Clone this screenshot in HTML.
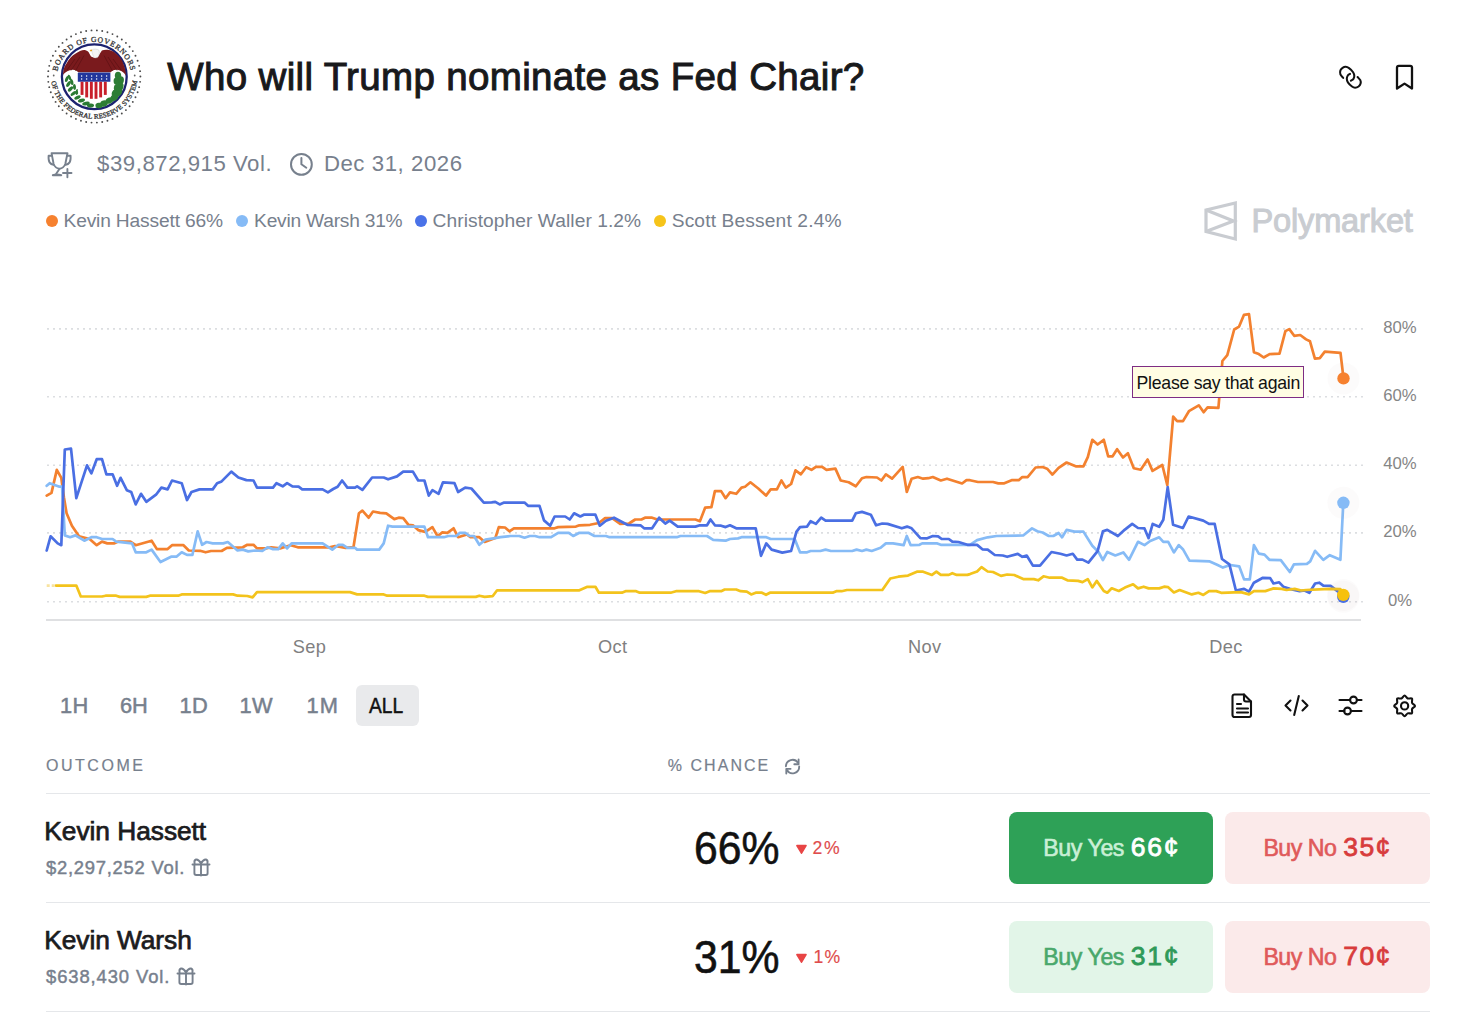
<!DOCTYPE html>
<html><head><meta charset="utf-8"><style>
html,body{margin:0;padding:0;background:#fff;}
body{width:1470px;height:1016px;position:relative;overflow:hidden;font-family:'Liberation Sans', sans-serif;}
</style></head><body>
<div style="position:absolute;left:167.30px;top:57.81px;font-size:38.50px;line-height:38.50px;font-weight:400;color:#18191b;letter-spacing:0.34px;white-space:nowrap;font-family:'Liberation Sans', sans-serif;-webkit-text-stroke:1.0px #18191b">Who will Trump nominate as Fed Chair?</div>
<div style="position:absolute;left:97.10px;top:152.91px;font-size:22.20px;line-height:22.20px;font-weight:400;color:#77808d;letter-spacing:0.53px;white-space:nowrap;font-family:'Liberation Sans', sans-serif;">$39,872,915 Vol.</div>
<div style="position:absolute;left:323.90px;top:152.91px;font-size:22.20px;line-height:22.20px;font-weight:400;color:#77808d;letter-spacing:0.56px;white-space:nowrap;font-family:'Liberation Sans', sans-serif;">Dec 31, 2026</div>
<div style="position:absolute;left:46px;top:215px;width:12px;height:12px;border-radius:6px;background:#f6812f"></div>
<div style="position:absolute;left:236px;top:215px;width:12px;height:12px;border-radius:6px;background:#86bbf6"></div>
<div style="position:absolute;left:415px;top:215px;width:12px;height:12px;border-radius:6px;background:#4a72e8"></div>
<div style="position:absolute;left:654px;top:215px;width:12px;height:12px;border-radius:6px;background:#f6c41a"></div>
<div style="position:absolute;left:63.50px;top:211.45px;font-size:19.20px;line-height:19.20px;font-weight:400;color:#77808d;letter-spacing:-0.16px;white-space:nowrap;font-family:'Liberation Sans', sans-serif;">Kevin Hassett 66%</div>
<div style="position:absolute;left:254.10px;top:211.45px;font-size:19.20px;line-height:19.20px;font-weight:400;color:#77808d;letter-spacing:-0.23px;white-space:nowrap;font-family:'Liberation Sans', sans-serif;">Kevin Warsh 31%</div>
<div style="position:absolute;left:432.60px;top:211.45px;font-size:19.20px;line-height:19.20px;font-weight:400;color:#77808d;letter-spacing:0.06px;white-space:nowrap;font-family:'Liberation Sans', sans-serif;">Christopher Waller 1.2%</div>
<div style="position:absolute;left:671.70px;top:211.45px;font-size:19.20px;line-height:19.20px;font-weight:400;color:#77808d;letter-spacing:0.14px;white-space:nowrap;font-family:'Liberation Sans', sans-serif;">Scott Bessent 2.4%</div>
<div style="position:absolute;left:1251.40px;top:204.70px;font-size:32.60px;line-height:32.60px;font-weight:400;color:#c9ccd1;letter-spacing:-0.16px;white-space:nowrap;font-family:'Liberation Sans', sans-serif;-webkit-text-stroke:1px #c9ccd1">Polymarket</div>
<div style="position:absolute;left:1360px;width:80px;text-align:center;top:319.96px;font-size:16.7px;line-height:16.7px;color:#858585;font-family:'Liberation Sans', sans-serif">80%</div>
<div style="position:absolute;left:1360px;width:80px;text-align:center;top:387.96px;font-size:16.7px;line-height:16.7px;color:#858585;font-family:'Liberation Sans', sans-serif">60%</div>
<div style="position:absolute;left:1360px;width:80px;text-align:center;top:456.26px;font-size:16.7px;line-height:16.7px;color:#858585;font-family:'Liberation Sans', sans-serif">40%</div>
<div style="position:absolute;left:1360px;width:80px;text-align:center;top:524.46px;font-size:16.7px;line-height:16.7px;color:#858585;font-family:'Liberation Sans', sans-serif">20%</div>
<div style="position:absolute;left:1360px;width:80px;text-align:center;top:592.86px;font-size:16.7px;line-height:16.7px;color:#858585;font-family:'Liberation Sans', sans-serif">0%</div>
<div style="position:absolute;left:269.3px;width:80px;text-align:center;top:638.19px;font-size:18.2px;line-height:18.2px;color:#808080;letter-spacing:0.3px;text-indent:0.3px;font-family:'Liberation Sans', sans-serif">Sep</div>
<div style="position:absolute;left:572.5px;width:80px;text-align:center;top:638.19px;font-size:18.2px;line-height:18.2px;color:#808080;letter-spacing:0.3px;text-indent:0.3px;font-family:'Liberation Sans', sans-serif">Oct</div>
<div style="position:absolute;left:884.6px;width:80px;text-align:center;top:638.19px;font-size:18.2px;line-height:18.2px;color:#808080;letter-spacing:0.3px;text-indent:0.3px;font-family:'Liberation Sans', sans-serif">Nov</div>
<div style="position:absolute;left:1185.8px;width:80px;text-align:center;top:638.19px;font-size:18.2px;line-height:18.2px;color:#808080;letter-spacing:0.3px;text-indent:0.3px;font-family:'Liberation Sans', sans-serif">Dec</div>
<div style="position:absolute;left:355.7px;top:685px;width:63.4px;height:41.3px;border-radius:6px;background:#e9eaec"></div>
<div style="position:absolute;left:60.00px;top:694.95px;font-size:21.80px;line-height:21.80px;font-weight:400;color:#77808d;letter-spacing:0.40px;white-space:nowrap;font-family:'Liberation Sans', sans-serif;-webkit-text-stroke:0.5px #77808d">1H</div>
<div style="position:absolute;left:119.90px;top:694.95px;font-size:21.80px;line-height:21.80px;font-weight:400;color:#77808d;letter-spacing:0.00px;white-space:nowrap;font-family:'Liberation Sans', sans-serif;-webkit-text-stroke:0.5px #77808d">6H</div>
<div style="position:absolute;left:179.40px;top:694.95px;font-size:21.80px;line-height:21.80px;font-weight:400;color:#77808d;letter-spacing:0.50px;white-space:nowrap;font-family:'Liberation Sans', sans-serif;-webkit-text-stroke:0.5px #77808d">1D</div>
<div style="position:absolute;left:239.40px;top:694.95px;font-size:21.80px;line-height:21.80px;font-weight:400;color:#77808d;letter-spacing:0.40px;white-space:nowrap;font-family:'Liberation Sans', sans-serif;-webkit-text-stroke:0.5px #77808d">1W</div>
<div style="position:absolute;left:306.60px;top:694.95px;font-size:21.80px;line-height:21.80px;font-weight:400;color:#77808d;letter-spacing:1.00px;white-space:nowrap;font-family:'Liberation Sans', sans-serif;-webkit-text-stroke:0.5px #77808d">1M</div>
<div style="position:absolute;left:369.00px;top:694.95px;font-size:21.80px;line-height:21.80px;font-weight:400;color:#111;letter-spacing:0.00px;white-space:nowrap;font-family:'Liberation Sans', sans-serif;transform:scaleX(0.88);transform-origin:0 0;-webkit-text-stroke:0.5px #111">ALL</div>
<div style="position:absolute;left:45.90px;top:758.26px;font-size:16.00px;line-height:16.00px;font-weight:400;color:#77808d;letter-spacing:2.55px;white-space:nowrap;font-family:'Liberation Sans', sans-serif;-webkit-text-stroke:0.2px #77808d">OUTCOME</div>
<div style="position:absolute;left:667.70px;top:758.26px;font-size:16.00px;line-height:16.00px;font-weight:400;color:#77808d;letter-spacing:2.05px;white-space:nowrap;font-family:'Liberation Sans', sans-serif;-webkit-text-stroke:0.2px #77808d">% CHANCE</div>
<div style="position:absolute;left:46px;top:793px;width:1384px;height:1px;background:#e5e7ea"></div>
<div style="position:absolute;left:46px;top:902px;width:1384px;height:1px;background:#e5e7ea"></div>
<div style="position:absolute;left:46px;top:1011px;width:1384px;height:1px;background:#e5e7ea"></div>
<div style="position:absolute;left:44.30px;top:818.14px;font-size:26.30px;line-height:26.30px;font-weight:400;color:#1c1c1e;letter-spacing:-0.03px;white-space:nowrap;font-family:'Liberation Sans', sans-serif;-webkit-text-stroke:0.75px #1c1c1e">Kevin Hassett</div>
<div style="position:absolute;left:46.00px;top:859.42px;font-size:18.40px;line-height:18.40px;font-weight:400;color:#77808d;letter-spacing:0.75px;white-space:nowrap;font-family:'Liberation Sans', sans-serif;-webkit-text-stroke:0.45px #77808d">$2,297,252 Vol.</div>
<div style="position:absolute;left:693.90px;top:824.79px;font-size:46.20px;line-height:46.20px;font-weight:400;color:#111;letter-spacing:0.00px;white-space:nowrap;font-family:'Liberation Sans', sans-serif;transform:scaleX(0.925);transform-origin:0 0;-webkit-text-stroke:0.6px #111">66%</div>
<svg style="position:absolute;left:795px;top:843.9px" width="13" height="11" viewBox="0 0 13 11"><path d="M1.9 1.6 L11.0 1.6 L6.5 9.2 Z" fill="#e84545" stroke="#e84545" stroke-width="1.6" stroke-linejoin="round"/></svg>
<div style="position:absolute;left:812.60px;top:840.00px;font-size:17.60px;line-height:17.60px;font-weight:400;color:#e04c4c;letter-spacing:1.60px;white-space:nowrap;font-family:'Liberation Sans', sans-serif;-webkit-text-stroke:0.15px #e04c4c">2%</div>
<div style="position:absolute;left:1009px;top:812px;width:204px;height:72px;border-radius:8px;background:#2ea157"></div>
<div style="position:absolute;left:1225px;top:812px;width:204.5px;height:72px;border-radius:8px;background:#fbeaea"></div>
<div style="position:absolute;left:1043.30px;top:836.66px;font-size:23.20px;line-height:23.20px;font-weight:400;color:#c9efd5;letter-spacing:-0.44px;white-space:nowrap;font-family:'Liberation Sans', sans-serif;-webkit-text-stroke:0.6px #c9efd5">Buy Yes</div>
<div style="position:absolute;left:1130.70px;top:833.87px;font-size:26.50px;line-height:26.50px;font-weight:400;color:#ffffff;letter-spacing:1.75px;white-space:nowrap;font-family:'Liberation Sans', sans-serif;-webkit-text-stroke:0.8px #ffffff">66¢</div>
<div style="position:absolute;left:1263.40px;top:836.66px;font-size:23.20px;line-height:23.20px;font-weight:400;color:#e05a5a;letter-spacing:-0.50px;white-space:nowrap;font-family:'Liberation Sans', sans-serif;-webkit-text-stroke:0.6px #e05a5a">Buy No</div>
<div style="position:absolute;left:1343.30px;top:833.87px;font-size:26.50px;line-height:26.50px;font-weight:400;color:#d83c3c;letter-spacing:1.35px;white-space:nowrap;font-family:'Liberation Sans', sans-serif;-webkit-text-stroke:0.8px #d83c3c">35¢</div>
<svg style="position:absolute;left:188.0px;top:856.1px" width="26" height="24" viewBox="188.0 856.1 26 24" fill="none" stroke="#77808d" stroke-width="1.9" stroke-linecap="round" stroke-linejoin="round"><path d="M192.5 864.6 H209.5"/><path d="M194.4 865.3000000000001 V873.4 Q194.4 875.1 196.2 875.1 H205.8 Q207.6 875.1 207.6 873.4 V865.3000000000001"/><path d="M201.0 862.1 V875.6"/><path d="M201.0 863.6 Q198.8 859.3000000000001 196.0 859.6 Q193.8 860.4 194.6 863.5"/><path d="M201.0 863.6 Q203.2 859.3000000000001 206.0 859.6 Q208.2 860.4 207.4 863.5"/></svg>
<div style="position:absolute;left:44.30px;top:927.04px;font-size:26.30px;line-height:26.30px;font-weight:400;color:#1c1c1e;letter-spacing:-0.06px;white-space:nowrap;font-family:'Liberation Sans', sans-serif;-webkit-text-stroke:0.75px #1c1c1e">Kevin Warsh</div>
<div style="position:absolute;left:46.00px;top:968.42px;font-size:18.40px;line-height:18.40px;font-weight:400;color:#77808d;letter-spacing:0.91px;white-space:nowrap;font-family:'Liberation Sans', sans-serif;-webkit-text-stroke:0.45px #77808d">$638,430 Vol.</div>
<div style="position:absolute;left:693.90px;top:933.79px;font-size:46.20px;line-height:46.20px;font-weight:400;color:#111;letter-spacing:0.00px;white-space:nowrap;font-family:'Liberation Sans', sans-serif;transform:scaleX(0.925);transform-origin:0 0;-webkit-text-stroke:0.6px #111">31%</div>
<svg style="position:absolute;left:795px;top:952.7px" width="13" height="11" viewBox="0 0 13 11"><path d="M1.9 1.6 L11.0 1.6 L6.5 9.2 Z" fill="#e84545" stroke="#e84545" stroke-width="1.6" stroke-linejoin="round"/></svg>
<div style="position:absolute;left:813.60px;top:948.80px;font-size:17.60px;line-height:17.60px;font-weight:400;color:#e04c4c;letter-spacing:1.00px;white-space:nowrap;font-family:'Liberation Sans', sans-serif;-webkit-text-stroke:0.15px #e04c4c">1%</div>
<div style="position:absolute;left:1009px;top:921px;width:204px;height:72px;border-radius:8px;background:#e2f5e8"></div>
<div style="position:absolute;left:1225px;top:921px;width:204.5px;height:72px;border-radius:8px;background:#fbeaea"></div>
<div style="position:absolute;left:1043.30px;top:945.66px;font-size:23.20px;line-height:23.20px;font-weight:400;color:#4aa86c;letter-spacing:-0.44px;white-space:nowrap;font-family:'Liberation Sans', sans-serif;-webkit-text-stroke:0.6px #4aa86c">Buy Yes</div>
<div style="position:absolute;left:1130.70px;top:942.87px;font-size:26.50px;line-height:26.50px;font-weight:400;color:#2f9a58;letter-spacing:1.75px;white-space:nowrap;font-family:'Liberation Sans', sans-serif;-webkit-text-stroke:0.8px #2f9a58">31¢</div>
<div style="position:absolute;left:1263.40px;top:945.66px;font-size:23.20px;line-height:23.20px;font-weight:400;color:#e05a5a;letter-spacing:-0.50px;white-space:nowrap;font-family:'Liberation Sans', sans-serif;-webkit-text-stroke:0.6px #e05a5a">Buy No</div>
<div style="position:absolute;left:1343.30px;top:942.87px;font-size:26.50px;line-height:26.50px;font-weight:400;color:#d83c3c;letter-spacing:1.35px;white-space:nowrap;font-family:'Liberation Sans', sans-serif;-webkit-text-stroke:0.8px #d83c3c">70¢</div>
<svg style="position:absolute;left:173.29999999999998px;top:965.1px" width="26" height="24" viewBox="173.29999999999998 965.1 26 24" fill="none" stroke="#77808d" stroke-width="1.9" stroke-linecap="round" stroke-linejoin="round"><path d="M177.79999999999998 973.6 H194.79999999999998"/><path d="M179.7 974.3000000000001 V982.4 Q179.7 984.1 181.49999999999997 984.1 H191.1 Q192.89999999999998 984.1 192.89999999999998 982.4 V974.3000000000001"/><path d="M186.29999999999998 971.1 V984.6"/><path d="M186.29999999999998 972.6 Q184.1 968.3000000000001 181.29999999999998 968.6 Q179.1 969.4 179.89999999999998 972.5"/><path d="M186.29999999999998 972.6 Q188.49999999999997 968.3000000000001 191.29999999999998 968.6 Q193.49999999999997 969.4 192.7 972.5"/></svg>
<svg style="position:absolute;left:0;top:0" width="1470" height="1016" viewBox="0 0 1470 1016">
<line x1="47" y1="328.9" x2="1367" y2="328.9" stroke="#dcdee1" stroke-width="1.6" stroke-dasharray="2 4"/>
<line x1="47" y1="396.8" x2="1367" y2="396.8" stroke="#dcdee1" stroke-width="1.6" stroke-dasharray="2 4"/>
<line x1="47" y1="465.2" x2="1367" y2="465.2" stroke="#dcdee1" stroke-width="1.6" stroke-dasharray="2 4"/>
<line x1="47" y1="532.9" x2="1367" y2="532.9" stroke="#dcdee1" stroke-width="1.6" stroke-dasharray="2 4"/>
<line x1="47" y1="601.7" x2="1367" y2="601.7" stroke="#dcdee1" stroke-width="1.6" stroke-dasharray="2 4"/>
<line x1="46" y1="620" x2="1361" y2="620" stroke="#dfe0e2" stroke-width="2"/>
<path d="M46.7 495.6 L51.5 492.9 L56.8 469.9 L61.3 477.8 L63.9 497.3 L66.6 513.3 L71.9 525.7 L79.0 536.3 L89.6 539.0 L96.7 545.2 L102.0 541.6 L107.3 543.4 L114.4 543.4 L118.0 541.6 L130.4 541.6 L135.7 545.2 L151.6 540.7 L156.9 549.1 L167.6 549.1 L172.0 545.2 L183.5 545.2 L188.8 550.5 L200.0 550.8 L205.6 552.3 L211.0 551.0 L221.6 551.0 L226.9 547.8 L242.8 547.3 L247.3 544.8 L253.5 544.8 L257.0 548.4 L265.9 548.4 L271.2 547.3 L280.0 548.4 L290.7 545.2 L297.8 547.3 L329.7 547.3 L335.0 546.0 L345.6 547.8 L353.5 547.0 L358.9 513.3 L362.4 510.6 L368.6 517.7 L373.0 511.5 L380.1 512.9 L386.3 513.3 L394.3 519.1 L398.7 517.7 L403.2 518.2 L408.5 524.8 L412.9 525.3 L418.2 530.1 L425.3 531.9 L432.4 527.1 L437.7 536.3 L442.1 532.4 L447.4 532.8 L453.6 528.3 L458.1 537.2 L466.9 534.5 L470.5 537.2 L479.3 537.2 L484.7 542.0 L495.3 538.1 L498.8 527.1 L505.0 527.5 L509.4 531.3 L513.9 528.3 L554.6 528.3 L558.2 527.1 L575.9 526.6 L579.4 525.3 L590.0 524.8 L598.9 523.0 L605.1 518.1 L612.2 518.1 L620.2 523.9 L629.0 523.5 L635.2 519.5 L641.4 519.5 L645.0 517.7 L652.1 517.7 L657.4 519.5 L665.0 519.5 L695.4 519.5 L699.9 521.2 L705.2 507.6 L711.4 507.1 L714.9 491.1 L721.1 491.1 L725.6 498.2 L730.0 492.4 L736.2 493.8 L741.5 487.6 L745.0 486.7 L750.4 482.3 L758.3 488.5 L766.0 495.6 L770.7 489.4 L776.9 489.4 L781.4 480.5 L785.8 487.6 L791.1 484.0 L795.5 470.4 L800.9 474.3 L806.2 467.2 L811.5 469.9 L815.9 466.9 L822.1 466.9 L826.5 469.9 L835.4 468.6 L840.7 480.5 L848.7 482.3 L855.8 486.3 L862.0 478.2 L866.4 477.0 L877.0 477.5 L881.4 480.5 L885.9 474.3 L892.1 478.7 L902.7 466.9 L906.8 492.0 L911.6 478.7 L917.8 477.0 L923.1 478.7 L928.4 478.2 L932.8 477.0 L940.8 480.5 L947.0 478.7 L962.1 483.5 L966.5 480.1 L970.0 480.2 L978.0 482.0 L993.0 482.0 L998.3 483.4 L1003.7 483.4 L1011.6 480.2 L1018.7 480.2 L1022.3 477.1 L1027.6 477.1 L1035.6 467.5 L1042.6 467.0 L1047.1 468.7 L1052.4 474.6 L1058.6 467.8 L1066.6 462.5 L1076.3 466.4 L1083.4 466.4 L1087.8 457.2 L1092.3 439.8 L1097.6 444.5 L1103.8 439.8 L1108.2 456.3 L1112.6 456.3 L1117.1 449.2 L1123.0 457.5 L1127.9 453.2 L1133.8 468.3 L1140.7 469.7 L1147.6 459.5 L1152.5 470.9 L1162.3 465.0 L1167.3 485.1 L1173.2 416.6 L1177.1 421.1 L1183.0 421.1 L1188.9 411.2 L1198.8 405.3 L1203.7 412.2 L1207.6 407.3 L1218.4 407.9 L1222.4 361.0 L1227.3 355.1 L1234.2 329.5 L1239.1 326.6 L1244.0 314.8 L1249.0 314.2 L1253.9 352.2 L1258.8 354.1 L1263.7 357.5 L1269.6 354.1 L1279.5 353.6 L1285.4 331.1 L1289.3 329.1 L1294.2 335.8 L1300.2 335.0 L1306.1 339.4 L1310.0 341.3 L1314.9 358.7 L1319.8 358.1 L1324.8 351.6 L1340.5 352.8 L1343.5 378.4" fill="none" stroke="#f3812f" stroke-width="2.7" stroke-linejoin="round" stroke-linecap="round"/>
<path d="M46.7 485.8 L49.7 483.2 L59.5 486.7 L62.1 486.7 L64.8 535.4 L70.1 537.2 L75.4 535.4 L84.3 540.7 L91.4 537.2 L96.7 537.2 L102.0 539.0 L112.6 539.0 L116.2 541.6 L132.1 543.4 L135.7 552.3 L146.3 552.3 L151.6 549.6 L160.5 562.0 L171.1 556.7 L176.4 556.7 L181.7 552.3 L187.0 554.9 L192.4 554.9 L197.7 531.3 L202.1 544.8 L206.5 542.0 L212.7 543.4 L223.3 543.4 L227.8 542.0 L237.5 550.5 L242.8 549.6 L248.2 551.4 L255.2 550.5 L262.3 551.0 L267.6 547.3 L273.0 549.1 L278.3 549.1 L282.7 543.4 L287.1 548.4 L291.6 543.4 L301.3 543.4 L322.6 543.4 L332.3 549.6 L338.5 544.8 L342.9 544.8 L347.4 547.8 L355.0 547.8 L357.1 549.6 L379.2 549.6 L383.7 543.4 L388.1 525.7 L392.5 526.6 L424.4 526.6 L428.0 537.2 L443.9 537.2 L448.3 536.0 L456.3 536.0 L459.9 532.8 L465.2 532.8 L469.6 536.0 L474.0 536.0 L479.3 544.8 L485.5 539.5 L493.5 538.4 L500.6 537.2 L510.3 536.0 L519.2 536.0 L524.5 537.7 L529.8 536.0 L535.1 536.0 L539.5 537.2 L551.1 537.2 L558.2 532.8 L568.8 532.8 L573.2 536.0 L579.4 532.8 L588.3 532.8 L594.5 536.0 L606.0 536.0 L609.5 537.2 L676.8 537.2 L680.4 536.0 L707.0 536.0 L713.2 539.9 L725.6 540.7 L730.0 539.0 L738.0 538.4 L741.5 537.2 L766.3 537.2 L770.7 539.0 L794.7 539.0 L800.0 552.3 L807.1 552.3 L810.6 551.0 L820.3 551.0 L825.6 549.6 L830.9 551.0 L852.2 551.0 L856.6 549.6 L862.0 551.0 L866.4 549.6 L871.7 551.0 L880.6 547.8 L885.9 543.4 L893.0 543.4 L903.6 545.2 L906.8 536.0 L910.7 545.2 L919.5 544.8 L922.2 543.4 L937.3 543.4 L940.8 544.8 L970.0 544.9 L977.1 540.1 L987.7 537.3 L996.6 536.0 L1023.2 535.5 L1032.0 528.4 L1037.3 531.3 L1042.6 532.5 L1048.8 536.0 L1053.3 536.0 L1058.6 533.0 L1062.1 537.3 L1066.6 529.9 L1074.5 531.6 L1083.4 531.6 L1092.3 545.8 L1098.5 552.0 L1102.9 560.0 L1107.3 552.0 L1115.3 555.5 L1123.3 552.4 L1129.0 559.8 L1138.0 541.8 L1144.5 545.1 L1150.2 541.0 L1159.2 537.3 L1163.3 541.8 L1168.2 541.8 L1173.9 552.4 L1178.8 545.1 L1182.9 549.2 L1189.4 560.6 L1209.8 561.4 L1217.1 564.7 L1222.9 567.6 L1230.2 565.0 L1239.2 566.3 L1244.1 579.4 L1249.8 579.4 L1253.9 545.1 L1258.8 553.6 L1264.5 554.6 L1269.4 559.8 L1280.8 560.1 L1289.8 572.0 L1293.9 564.4 L1306.9 563.9 L1310.2 561.4 L1315.1 550.8 L1323.3 559.8 L1329.8 555.2 L1340.4 559.8 L1343.3 502.7" fill="none" stroke="#86bbf6" stroke-width="2.7" stroke-linejoin="round" stroke-linecap="round"/>
<path d="M46.7 550.5 L50.6 536.3 L57.7 543.4 L61.3 545.2 L64.8 449.5 L71.0 448.6 L76.3 498.2 L87.0 465.4 L91.4 473.4 L96.7 459.2 L102.0 459.2 L106.4 474.3 L112.6 474.3 L117.1 485.8 L120.6 477.8 L126.8 490.2 L131.2 492.0 L135.7 504.4 L141.0 493.8 L146.3 501.8 L156.0 494.7 L161.4 487.6 L167.6 489.4 L172.0 480.5 L181.7 483.2 L187.0 500.0 L191.5 492.0 L199.5 489.4 L201.2 489.4 L212.7 489.4 L217.1 483.2 L221.6 481.4 L231.3 471.6 L238.4 477.5 L246.4 480.1 L253.5 480.5 L257.0 487.6 L273.0 487.6 L276.5 483.2 L282.7 486.3 L287.1 483.2 L292.4 486.3 L298.6 486.7 L302.2 489.4 L322.6 489.4 L327.9 492.4 L333.2 489.0 L337.6 486.7 L342.1 480.5 L347.4 487.6 L355.0 487.6 L357.1 486.3 L362.4 489.9 L372.1 477.5 L383.7 477.5 L388.1 479.3 L397.0 476.4 L403.2 471.6 L412.9 471.6 L418.2 480.5 L424.4 480.5 L428.8 495.6 L432.4 490.2 L438.6 493.8 L443.0 482.3 L454.5 483.2 L458.1 492.0 L465.2 487.6 L471.4 488.5 L483.8 502.6 L491.7 502.3 L495.3 501.8 L499.7 504.4 L504.1 502.6 L510.0 502.6 L524.5 502.6 L528.0 505.8 L539.5 505.8 L544.0 520.4 L550.2 525.7 L554.6 516.5 L565.2 516.5 L569.7 519.5 L574.1 513.3 L580.3 516.5 L583.8 514.7 L595.4 514.7 L599.8 525.7 L606.0 520.7 L614.0 517.7 L627.3 524.8 L640.5 525.3 L644.1 528.3 L652.1 528.3 L659.1 517.7 L665.3 523.5 L669.7 520.7 L677.7 526.6 L695.4 526.6 L699.9 525.3 L707.0 525.3 L710.5 519.5 L714.9 525.3 L721.1 525.7 L725.6 527.1 L730.0 525.3 L736.2 528.3 L755.7 528.3 L761.0 555.8 L766.3 543.4 L771.6 549.6 L782.3 552.6 L791.1 551.0 L796.4 531.9 L800.0 527.1 L807.1 526.6 L810.6 521.2 L815.9 523.9 L821.2 517.7 L825.6 520.7 L852.2 520.7 L855.8 513.3 L862.0 511.9 L870.8 514.7 L876.1 525.3 L882.3 523.5 L887.6 523.9 L901.8 528.3 L907.1 526.6 L911.6 528.3 L920.4 538.1 L926.6 538.4 L932.8 536.0 L938.1 536.3 L941.7 539.0 L948.8 539.0 L952.3 541.6 L958.5 542.0 L967.4 544.8 L977.1 544.9 L982.4 549.3 L987.7 549.7 L994.8 555.0 L1002.8 555.5 L1007.2 556.8 L1017.8 553.8 L1022.3 556.8 L1026.7 555.5 L1032.9 565.6 L1040.0 565.6 L1051.5 552.0 L1060.4 553.8 L1066.6 555.5 L1072.8 553.8 L1077.2 559.6 L1082.5 559.6 L1088.4 562.6 L1097.6 551.1 L1102.9 531.3 L1107.3 529.9 L1117.9 536.0 L1124.9 529.6 L1132.2 523.9 L1138.0 528.0 L1144.5 528.4 L1148.6 538.2 L1152.7 523.9 L1159.2 526.8 L1163.3 519.8 L1167.7 487.1 L1173.1 524.7 L1182.9 528.0 L1188.6 516.5 L1203.3 520.6 L1209.0 523.9 L1214.7 523.9 L1222.0 559.0 L1229.4 564.4 L1235.9 590.5 L1244.1 588.9 L1249.0 591.6 L1253.9 582.7 L1262.9 577.8 L1270.2 578.1 L1273.5 583.5 L1279.2 582.3 L1283.3 586.7 L1289.8 588.9 L1299.6 591.1 L1304.5 590.5 L1309.4 592.8 L1315.1 583.5 L1319.2 582.7 L1323.3 585.6 L1330.6 585.9 L1337.1 590.8 L1343.3 597.0" fill="none" stroke="#4a6fe3" stroke-width="2.7" stroke-linejoin="round" stroke-linecap="round"/>
<path d="M56.0 585.6 L76.3 585.6 L80.8 596.5 L102.0 596.5 L105.6 595.7 L116.2 595.7 L119.7 596.9 L146.3 596.9 L149.9 595.7 L178.2 595.7 L181.7 594.4 L233.1 594.4 L237.5 595.7 L247.3 596.0 L252.6 597.4 L257.0 592.1 L350.0 592.1 L357.1 594.4 L383.7 594.4 L387.2 595.7 L424.4 595.7 L428.0 596.9 L475.8 596.9 L479.3 595.7 L484.7 596.9 L492.6 596.2 L497.1 590.3 L579.4 590.3 L587.4 586.8 L595.4 586.8 L598.9 592.7 L621.9 592.7 L625.5 591.2 L636.1 591.2 L639.7 592.7 L670.6 592.7 L676.0 591.2 L699.0 591.2 L705.2 593.0 L709.6 591.2 L721.1 591.2 L724.7 589.5 L736.2 589.5 L740.6 591.2 L746.8 591.6 L751.2 594.4 L755.7 592.7 L761.9 592.7 L766.0 594.8 L769.9 592.7 L832.7 592.7 L836.3 591.2 L841.6 591.2 L846.9 590.0 L882.3 590.0 L890.3 578.5 L898.3 576.7 L908.0 575.6 L916.9 571.7 L923.1 571.7 L932.0 574.9 L936.4 571.7 L940.8 574.9 L948.8 574.9 L952.3 573.2 L956.7 574.9 L967.4 574.9 L970.0 574.1 L977.1 571.5 L981.5 567.1 L987.7 571.5 L993.0 572.0 L1001.0 575.9 L1007.2 574.5 L1014.3 575.0 L1023.2 579.1 L1033.8 579.1 L1038.2 580.3 L1043.5 576.3 L1049.7 577.7 L1062.1 577.7 L1067.4 580.3 L1078.1 580.9 L1082.5 582.1 L1087.8 579.1 L1092.3 587.4 L1096.7 580.9 L1103.8 591.0 L1107.3 592.7 L1111.7 588.3 L1118.8 591.0 L1124.9 587.6 L1133.1 584.3 L1138.0 588.4 L1143.7 586.7 L1148.6 588.4 L1159.2 588.4 L1164.1 586.7 L1168.2 587.2 L1173.9 592.4 L1179.6 590.0 L1191.8 594.4 L1198.4 592.8 L1203.3 594.9 L1209.0 591.1 L1216.3 591.1 L1221.2 592.8 L1240.8 592.1 L1249.0 594.4 L1253.9 591.1 L1265.3 591.1 L1273.5 588.4 L1281.6 588.9 L1286.5 590.0 L1294.7 588.9 L1301.2 590.5 L1306.1 590.0 L1324.1 589.2 L1330.6 588.9 L1340.4 589.2 L1343.3 594.9" fill="none" stroke="#f3c31c" stroke-width="2.7" stroke-linejoin="round" stroke-linecap="round"/>
<path d="M46.7 585.6 L56 585.6" stroke="#f8e3a0" stroke-width="2.6" stroke-dasharray="3 2"/>
<circle cx="1343.5" cy="378.4" r="16" fill="#a09080" fill-opacity="0.035"/>
<circle cx="1343.4" cy="502.8" r="16" fill="#a09080" fill-opacity="0.035"/>
<circle cx="1343.3" cy="596.8" r="16" fill="#a09080" fill-opacity="0.035"/>
<circle cx="1343.3" cy="594.9" r="16" fill="#a09080" fill-opacity="0.035"/>
<circle cx="1343.5" cy="378.4" r="6.2" fill="#f6812f"/>
<circle cx="1343.4" cy="502.8" r="6.2" fill="#86bbf6"/>
<circle cx="1343.3" cy="596.8" r="6.2" fill="#4a6fe3"/>
<circle cx="1343.3" cy="594.9" r="6.2" fill="#f6c10d"/>
</svg>
<div style="position:absolute;left:1132px;top:366px;width:170px;height:29.5px;border:1px solid #7e2d84;background:#fffde3"></div>
<div style="position:absolute;left:1136.60px;top:374.62px;font-size:17.70px;line-height:17.70px;font-weight:400;color:#111;letter-spacing:-0.27px;white-space:nowrap;font-family:'Liberation Sans', sans-serif;">Please say that again</div>
<svg style="position:absolute;left:1334px;top:62px" width="32" height="32" viewBox="1334 62 32 32" fill="none" stroke="#111" stroke-width="2.05" stroke-linecap="round" stroke-linejoin="round"><path d="M1343.20 77.90 C1342.73 77.32 1340.87 75.65 1340.40 74.40 C1339.93 73.15 1340.03 71.50 1340.40 70.40 C1340.77 69.30 1341.72 68.40 1342.60 67.80 C1343.48 67.20 1344.63 66.75 1345.70 66.80 C1346.77 66.85 1347.77 67.20 1349.00 68.10 C1350.23 69.00 1352.22 70.90 1353.10 72.20 C1353.98 73.50 1354.27 74.75 1354.30 75.90 C1354.33 77.05 1353.87 78.30 1353.30 79.10 C1352.73 79.90 1351.30 80.43 1350.90 80.70"/><path d="M1357.60 77.00 C1358.05 77.53 1359.80 79.10 1360.30 80.20 C1360.80 81.30 1360.88 82.55 1360.60 83.60 C1360.32 84.65 1359.52 85.82 1358.60 86.50 C1357.68 87.18 1356.20 87.70 1355.10 87.70 C1354.00 87.70 1353.20 87.40 1352.00 86.50 C1350.80 85.60 1348.77 83.58 1347.90 82.30 C1347.03 81.02 1346.82 79.93 1346.80 78.80 C1346.78 77.67 1347.27 76.32 1347.80 75.50 C1348.33 74.68 1349.63 74.17 1350.00 73.90"/></svg>
<svg style="position:absolute;left:1394px;top:64px" width="21" height="27" viewBox="0 0 21 27" fill="none" stroke="#111" stroke-width="2.3" stroke-linejoin="round"><path d="M3 3.6 a1.8 1.8 0 0 1 1.8-1.8 h11.4 a1.8 1.8 0 0 1 1.8 1.8 V24.5 L10.5 19.6 L3 24.5 Z"/></svg>
<svg style="position:absolute;left:1230px;top:692px" width="25" height="27" viewBox="0 0 25 27" fill="none" stroke="#111" stroke-width="2.1" stroke-linecap="round" stroke-linejoin="round"><path d="M4.5 2.5 h9.5 l7 7 v13.5 a2 2 0 0 1 -2 2 h-14.5 a2 2 0 0 1 -2-2 v-18.5 a2 2 0 0 1 2-2z"/><path d="M14 2.5 v5 a2 2 0 0 0 2 2 h5"/><path d="M7 12h4M7 16.5h11M7 20.5h11"/></svg>
<svg style="position:absolute;left:1283px;top:693px" width="27" height="25" viewBox="0 0 27 25" fill="none" stroke="#111" stroke-width="2.1" stroke-linecap="round" stroke-linejoin="round"><path d="M7.5 7.5 L2.5 12.5 L7.5 17.5"/><path d="M19.5 7.5 L24.5 12.5 L19.5 17.5"/><path d="M15.8 3 L11.2 22"/></svg>
<svg style="position:absolute;left:1338px;top:693px" width="26" height="25" viewBox="0 0 26 25" fill="none" stroke="#111" stroke-width="2.1" stroke-linecap="round"><path d="M1.5 7h10.5M19 7h4.5M1.5 18h5M13 18h10.5"/><circle cx="15.5" cy="7" r="3.4"/><circle cx="9.5" cy="18" r="3.4"/></svg>
<svg style="position:absolute;left:1388px;top:689px" width="34" height="34" viewBox="1388 689 34 34" fill="none" stroke="#111" stroke-width="2.1" stroke-linejoin="round"><path d="M1404.60 695.50 C1405.63 695.50 1406.47 697.91 1407.70 698.42 C1408.93 698.92 1411.22 697.82 1411.95 698.55 C1412.68 699.28 1411.58 701.57 1412.08 702.80 C1412.59 704.03 1415.00 704.87 1415.00 705.90 C1415.00 706.93 1412.59 707.77 1412.08 709.00 C1411.58 710.23 1412.68 712.52 1411.95 713.25 C1411.22 713.98 1408.93 712.88 1407.70 713.38 C1406.47 713.89 1405.63 716.30 1404.60 716.30 C1403.57 716.30 1402.73 713.89 1401.50 713.38 C1400.27 712.88 1397.98 713.98 1397.25 713.25 C1396.52 712.52 1397.62 710.23 1397.12 709.00 C1396.61 707.77 1394.20 706.93 1394.20 705.90 C1394.20 704.87 1396.61 704.03 1397.12 702.80 C1397.62 701.57 1396.52 699.28 1397.25 698.55 C1397.98 697.82 1400.27 698.92 1401.50 698.42 C1402.73 697.91 1403.57 695.50 1404.60 695.50Z"/><circle cx="1404.6" cy="705.9" r="3.6"/></svg>
<svg style="position:absolute;left:780px;top:755px" width="26" height="23" viewBox="780 755 26 23" fill="none" stroke="#77808d" stroke-width="1.85" stroke-linecap="round" stroke-linejoin="round"><path d="M785.9 766.3 A6.6 6.6 0 0 1 798.0 762.8"/><path d="M798.6 759.4 V764.2 H794.3"/><path d="M799.2 766.5 A6.6 6.6 0 0 1 786.9 770.0"/><path d="M786.3 773.5 V768.8 H790.6"/></svg>
<svg style="position:absolute;left:42px;top:148px" width="36" height="34" viewBox="42 148 36 34" fill="none" stroke="#77808d" stroke-width="1.9" stroke-linecap="round" stroke-linejoin="round"><path d="M51.6 153.3 H67.5 L65.3 164 Q63.6 168.3 59.5 168.8 Q55.3 168.3 53.6 164 Z"/><path d="M51.9 155.8 H48.6 Q48.3 160.6 49.6 162.4 Q51 164.5 53.5 164.8"/><path d="M67.3 155.8 H70.6 Q70.9 160.6 69.6 162.4 Q68.2 164.5 65.7 164.8"/><path d="M59.4 169 L56.2 173.8"/><path d="M52.8 175.2 Q56.5 173.6 61.3 175.2 Z"/><path d="M67.4 169 V177.3 M63 173 H71.5"/></svg>
<svg style="position:absolute;left:285px;top:148px" width="33" height="33" viewBox="285 148 33 33" fill="none" stroke="#77808d" stroke-width="2.0" stroke-linecap="round" stroke-linejoin="round"><circle cx="301.4" cy="164.4" r="10.4"/><path d="M301.4 158 V164.3 L306.3 167.7"/></svg>
<svg style="position:absolute;left:1200px;top:198px" width="42" height="46" viewBox="1200 198 42 46" fill="none" stroke="#c9ccd1" stroke-width="3.2" stroke-linejoin="miter"><path d="M1206 210 L1235.3 203 L1235.3 239 L1206 231.5 Z"/><path d="M1206 210 L1233.5 221 L1206 231.5"/></svg>
<svg style="position:absolute;left:44px;top:26px" width="100" height="100" viewBox="0 0 100 100">
<circle cx="96.40" cy="50.50" r="0.95" fill="#4a4a4a"/>
<circle cx="96.09" cy="55.86" r="0.95" fill="#4a4a4a"/>
<circle cx="95.15" cy="61.15" r="0.95" fill="#4a4a4a"/>
<circle cx="93.61" cy="66.30" r="0.95" fill="#4a4a4a"/>
<circle cx="91.49" cy="71.23" r="0.95" fill="#4a4a4a"/>
<circle cx="88.80" cy="75.89" r="0.95" fill="#4a4a4a"/>
<circle cx="85.59" cy="80.20" r="0.95" fill="#4a4a4a"/>
<circle cx="81.90" cy="84.10" r="0.95" fill="#4a4a4a"/>
<circle cx="77.79" cy="87.56" r="0.95" fill="#4a4a4a"/>
<circle cx="73.30" cy="90.51" r="0.95" fill="#4a4a4a"/>
<circle cx="68.50" cy="92.92" r="0.95" fill="#4a4a4a"/>
<circle cx="63.45" cy="94.76" r="0.95" fill="#4a4a4a"/>
<circle cx="58.22" cy="96.00" r="0.95" fill="#4a4a4a"/>
<circle cx="52.89" cy="96.62" r="0.95" fill="#4a4a4a"/>
<circle cx="47.51" cy="96.62" r="0.95" fill="#4a4a4a"/>
<circle cx="42.18" cy="96.00" r="0.95" fill="#4a4a4a"/>
<circle cx="36.95" cy="94.76" r="0.95" fill="#4a4a4a"/>
<circle cx="31.90" cy="92.92" r="0.95" fill="#4a4a4a"/>
<circle cx="27.10" cy="90.51" r="0.95" fill="#4a4a4a"/>
<circle cx="22.61" cy="87.56" r="0.95" fill="#4a4a4a"/>
<circle cx="18.50" cy="84.10" r="0.95" fill="#4a4a4a"/>
<circle cx="14.81" cy="80.20" r="0.95" fill="#4a4a4a"/>
<circle cx="11.60" cy="75.89" r="0.95" fill="#4a4a4a"/>
<circle cx="8.91" cy="71.23" r="0.95" fill="#4a4a4a"/>
<circle cx="6.79" cy="66.30" r="0.95" fill="#4a4a4a"/>
<circle cx="5.25" cy="61.15" r="0.95" fill="#4a4a4a"/>
<circle cx="4.31" cy="55.86" r="0.95" fill="#4a4a4a"/>
<circle cx="4.00" cy="50.50" r="0.95" fill="#4a4a4a"/>
<circle cx="4.31" cy="45.14" r="0.95" fill="#4a4a4a"/>
<circle cx="5.25" cy="39.85" r="0.95" fill="#4a4a4a"/>
<circle cx="6.79" cy="34.70" r="0.95" fill="#4a4a4a"/>
<circle cx="8.91" cy="29.77" r="0.95" fill="#4a4a4a"/>
<circle cx="11.60" cy="25.11" r="0.95" fill="#4a4a4a"/>
<circle cx="14.81" cy="20.80" r="0.95" fill="#4a4a4a"/>
<circle cx="18.50" cy="16.90" r="0.95" fill="#4a4a4a"/>
<circle cx="22.61" cy="13.44" r="0.95" fill="#4a4a4a"/>
<circle cx="27.10" cy="10.49" r="0.95" fill="#4a4a4a"/>
<circle cx="31.90" cy="8.08" r="0.95" fill="#4a4a4a"/>
<circle cx="36.95" cy="6.24" r="0.95" fill="#4a4a4a"/>
<circle cx="42.18" cy="5.00" r="0.95" fill="#4a4a4a"/>
<circle cx="47.51" cy="4.38" r="0.95" fill="#4a4a4a"/>
<circle cx="52.89" cy="4.38" r="0.95" fill="#4a4a4a"/>
<circle cx="58.22" cy="5.00" r="0.95" fill="#4a4a4a"/>
<circle cx="63.45" cy="6.24" r="0.95" fill="#4a4a4a"/>
<circle cx="68.50" cy="8.08" r="0.95" fill="#4a4a4a"/>
<circle cx="73.30" cy="10.49" r="0.95" fill="#4a4a4a"/>
<circle cx="77.79" cy="13.44" r="0.95" fill="#4a4a4a"/>
<circle cx="81.90" cy="16.90" r="0.95" fill="#4a4a4a"/>
<circle cx="85.59" cy="20.80" r="0.95" fill="#4a4a4a"/>
<circle cx="88.80" cy="25.11" r="0.95" fill="#4a4a4a"/>
<circle cx="91.49" cy="29.77" r="0.95" fill="#4a4a4a"/>
<circle cx="93.61" cy="34.70" r="0.95" fill="#4a4a4a"/>
<circle cx="95.15" cy="39.85" r="0.95" fill="#4a4a4a"/>
<circle cx="96.09" cy="45.14" r="0.95" fill="#4a4a4a"/>
<defs><path id="arcT" d="M12.60 53.50 A37.6 37.6 0 0 1 87.80 53.50"/><path id="arcB" d="M7.00 49.50 A43.2 43.2 0 0 0 93.40 49.50"/></defs>
<text font-family="Liberation Serif" font-size="7.6" fill="#333" stroke="#333" stroke-width="0.3"><textPath href="#arcT" startOffset="8" textLength="101" lengthAdjust="spacing">BOARD OF GOVERNORS</textPath></text>
<text font-family="Liberation Serif" font-size="7.0" fill="#333" stroke="#333" stroke-width="0.3"><textPath href="#arcB" startOffset="6" textLength="124" lengthAdjust="spacing">OF THE FEDERAL RESERVE SYSTEM</textPath></text>
<circle cx="90.70" cy="49.50" r="0.9" fill="#666"/><circle cx="9.70" cy="49.50" r="0.9" fill="#666"/>
<circle cx="50.3" cy="50.7" r="32.4" fill="#fff" stroke="#1c2270" stroke-width="2.3"/>
<path d="M19 48.7 C19.5 43 20.5 40 22.5 37.4 C25 33 28 29.5 31.7 27.5 C34.5 25.5 37.5 24 40.2 23.9 C42 23.8 43.5 24.8 44.5 26 L47 30.5 L50.5 32 L54 30.5 L57.9 24.6 C60 23.5 62.5 23.5 65 23.9 C68 24.5 70.5 26 72.8 28.2 C76 31 78.3 34 79.2 37.4 C80.8 41 81.7 45 82 49.4 C79.5 46 76 44 72.8 43.8 C70 43.6 68 44.8 66.4 46.6 L34.6 46.6 C33 44.8 30.8 43.6 28.2 43.8 C25 44 21.5 46 19 48.7Z" fill="#7a1a1d"/>
<path d="M23 44 L31 33 M27 44.5 L36 31 M31.5 45 L40 29.5 M77 44 L69 33 M73 44.5 L64 31 M68.5 45 L60 29.5" stroke="#5c1013" stroke-width="0.7" fill="none"/>
<path d="M47.8 24 C49.5 22.6 53 22.8 55 24.2 C55.8 26.5 55.3 29.8 53.5 31.6 L50.8 32 C49 30 48 27.5 47.8 24Z" fill="#f4f4f4" stroke="#b9b9b9" stroke-width="0.35"/><path d="M47.9 23.6 l-2.4 0.4 l1.2 1.6 l1.4-0.5z" fill="#e3a521"/>
<ellipse cx="22.8" cy="53" rx="1.5" ry="3.2" transform="rotate(20 22.8 53)" fill="#2b7a33"/>
<ellipse cx="25.5" cy="51.5" rx="1.4" ry="3" transform="rotate(-25 25.5 51.5)" fill="#2b7a33"/>
<ellipse cx="24.5" cy="58" rx="1.6" ry="3.3" transform="rotate(35 24.5 58)" fill="#2b7a33"/>
<ellipse cx="27.8" cy="56" rx="1.5" ry="3" transform="rotate(-15 27.8 56)" fill="#2b7a33"/>
<ellipse cx="26.5" cy="63" rx="1.6" ry="3.3" transform="rotate(45 26.5 63)" fill="#2b7a33"/>
<ellipse cx="30.5" cy="61" rx="1.5" ry="3" transform="rotate(-5 30.5 61)" fill="#2b7a33"/>
<ellipse cx="29.5" cy="67.5" rx="1.6" ry="3.3" transform="rotate(55 29.5 67.5)" fill="#2b7a33"/>
<ellipse cx="33" cy="66" rx="1.5" ry="3" transform="rotate(10 33 66)" fill="#2b7a33"/>
<ellipse cx="33.5" cy="71.5" rx="1.7" ry="3.4" transform="rotate(65 33.5 71.5)" fill="#2b7a33"/>
<ellipse cx="37.5" cy="74.5" rx="1.8" ry="3.6" transform="rotate(75 37.5 74.5)" fill="#2b7a33"/>
<ellipse cx="42" cy="77.5" rx="1.9" ry="3.8" transform="rotate(80 42 77.5)" fill="#2b7a33"/>
<ellipse cx="46.5" cy="79.5" rx="1.9" ry="3.6" transform="rotate(85 46.5 79.5)" fill="#2b7a33"/>
<ellipse cx="74" cy="49.5" rx="3.2" ry="3.8" transform="rotate(0 74 49.5)" fill="#2d7d35"/>
<ellipse cx="76.5" cy="54.5" rx="3.4" ry="4.2" transform="rotate(10 76.5 54.5)" fill="#2d7d35"/>
<ellipse cx="72.2" cy="55" rx="2.6" ry="3.6" transform="rotate(0 72.2 55)" fill="#2d7d35"/>
<ellipse cx="76" cy="60.5" rx="3.4" ry="4.4" transform="rotate(15 76 60.5)" fill="#2d7d35"/>
<ellipse cx="72.5" cy="61.5" rx="2.6" ry="3.6" transform="rotate(10 72.5 61.5)" fill="#2d7d35"/>
<ellipse cx="74.5" cy="66" rx="3.4" ry="4.2" transform="rotate(30 74.5 66)" fill="#2d7d35"/>
<ellipse cx="70.5" cy="67" rx="2.6" ry="3.5" transform="rotate(20 70.5 67)" fill="#2d7d35"/>
<ellipse cx="70.5" cy="71.2" rx="3.2" ry="4" transform="rotate(50 70.5 71.2)" fill="#2d7d35"/>
<ellipse cx="65.5" cy="74.5" rx="3" ry="4" transform="rotate(65 65.5 74.5)" fill="#2d7d35"/>
<ellipse cx="60" cy="77.5" rx="3" ry="3.8" transform="rotate(75 60 77.5)" fill="#2d7d35"/>
<ellipse cx="55" cy="79.5" rx="2.8" ry="3.6" transform="rotate(85 55 79.5)" fill="#2d7d35"/>
<path d="M33.8 47.6 Q33.8 46.6 34.8 46.6 H65.4 Q66.4 46.6 66.4 47.6 V64.5 C66.4 70.5 59 73.2 50.9 74.6 C42.8 73.2 33.8 70.5 33.8 64.5Z" fill="#fff"/>
<path d="M33.8 47.6 Q33.8 46.6 34.8 46.6 H65.4 Q66.4 46.6 66.4 47.6 V55.8 H33.8Z" fill="#22369c"/>
<path d="M36.60 55.8 h2.9 V68.9 h-2.9z" fill="#c81f2b"/>
<path d="M41.25 55.8 h2.9 V71.4 h-2.9z" fill="#c81f2b"/>
<path d="M45.90 55.8 h2.9 V72.8 h-2.9z" fill="#c81f2b"/>
<path d="M50.55 55.8 h2.9 V72.8 h-2.9z" fill="#c81f2b"/>
<path d="M55.20 55.8 h2.9 V71.4 h-2.9z" fill="#c81f2b"/>
<path d="M59.85 55.8 h2.9 V68.9 h-2.9z" fill="#c81f2b"/>
<circle cx="37.6" cy="50.1" r="0.75" fill="#fff"/><circle cx="37.6" cy="53.0" r="0.75" fill="#fff"/>
<circle cx="42.6" cy="50.1" r="0.75" fill="#fff"/><circle cx="42.6" cy="53.0" r="0.75" fill="#fff"/>
<circle cx="47.6" cy="50.1" r="0.75" fill="#fff"/><circle cx="47.6" cy="53.0" r="0.75" fill="#fff"/>
<circle cx="52.6" cy="50.1" r="0.75" fill="#fff"/><circle cx="52.6" cy="53.0" r="0.75" fill="#fff"/>
<circle cx="57.6" cy="50.1" r="0.75" fill="#fff"/><circle cx="57.6" cy="53.0" r="0.75" fill="#fff"/>
<circle cx="62.6" cy="50.1" r="0.75" fill="#fff"/><circle cx="62.6" cy="53.0" r="0.75" fill="#fff"/>
</svg>
</body></html>
